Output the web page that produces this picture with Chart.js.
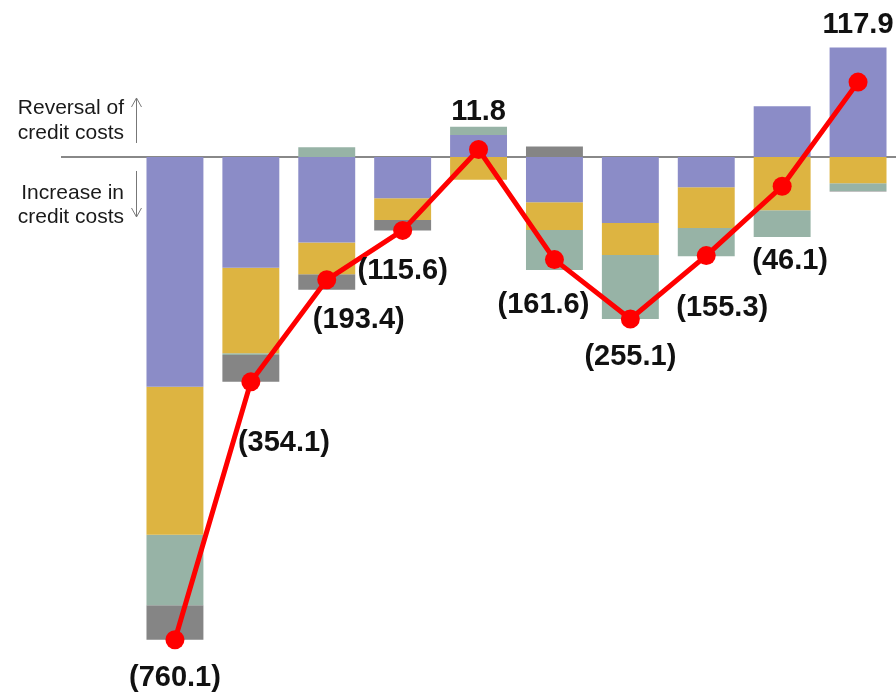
<!DOCTYPE html>
<html>
<head>
<meta charset="utf-8">
<script src="https://cdn.jsdelivr.net/npm/chart.js@4"></script>
<style>
  html, body { margin: 0; padding: 0; background: #fff; }
  #wrap { position: relative; width: 896px; height: 695px; }
</style>
</head>
<body>
<div id="wrap"><canvas id="creditCosts" width="896" height="695"></canvas></div>
<script>
// quarterly net credit costs, split by component (negative = increase in credit costs)
const periods = ['P1', 'P2', 'P3', 'P4', 'P5', 'P6', 'P7', 'P8', 'P9', 'P10'];
const purpleVals = [-362, -174.3, -134.5, -65, 34.6, -71.4, -104, -47.5, 80, 172.4];
const yellowVals = [-233, -134.8, -50, -34.2, -35.9, -43.6, -50.5, -64.4, -84, -41.4];
const tealVals = [-111, -2.7, 15.5, 0, 13.1, -63, -100.6, -44.4, -42.1, -12.1];
const grayVals = [-54.1, -42.3, -24.4, -16.4, 0, 16.4, 0, 1.0, 0, -1.0];
const netVals = [-760.1, -354.1, -193.4, -115.6, 11.8, -161.6, -255.1, -155.3, -46.1, 117.9];

// where each total label sits relative to its point
const labelOffsets = [[0, 38], [33, 61], [32, 40], [0, 41], [0, -37],
  [-11, 45], [0, 38], [16, 52], [8, 75], [0, -57]];

const FONT = 'Arial, "Liberation Sans", sans-serif';
const fmt = v => v < 0 ? '(' + Math.abs(v).toFixed(1) + ')' : v.toFixed(1);

const zeroLine = {
  id: 'zeroLine',
  beforeDatasetsDraw(chart) {
    const c = chart.ctx;
    const y = chart.scales.y.getPixelForValue(0);
    c.save();
    c.strokeStyle = '#888888';
    c.lineWidth = 2;
    c.beginPath();
    c.moveTo(61, y);
    c.lineTo(chart.width, y);
    c.stroke();

    // side notes with arrows
    c.fillStyle = '#1a1a1a';
    c.font = '21px ' + FONT;
    c.textAlign = 'right';
    c.textBaseline = 'alphabetic';
    c.fillText('Reversal of', 124, y - 43);
    c.fillText('credit costs', 124, y - 18);
    c.fillText('Increase in', 124, y + 42);
    c.fillText('credit costs', 124, y + 66);

    c.strokeStyle = '#777777';
    c.lineWidth = 1;
    const ax = 136.5;
    c.beginPath();
    c.moveTo(ax, y - 14); c.lineTo(ax, y - 59);
    c.moveTo(ax - 5, y - 50); c.lineTo(ax, y - 59); c.lineTo(ax + 5, y - 50);
    c.moveTo(ax, y + 14); c.lineTo(ax, y + 60);
    c.moveTo(ax - 5, y + 51); c.lineTo(ax, y + 60); c.lineTo(ax + 5, y + 51);
    c.stroke();
    c.restore();
  }
};

const totalLabels = {
  id: 'totalLabels',
  afterDatasetsDraw(chart) {
    const c = chart.ctx;
    const meta = chart.getDatasetMeta(0);
    c.save();
    c.fillStyle = '#111111';
    c.font = 'bold 29px ' + FONT;
    c.textAlign = 'center';
    c.textBaseline = 'middle';
    meta.data.forEach((pt, i) => {
      const [dx, dy] = labelOffsets[i];
      c.fillText(fmt(netVals[i]), pt.x + dx, pt.y + dy);
    });
    c.restore();
  }
};

const barDefaults = { type: 'bar', stack: 'parts', barPercentage: 0.75, categoryPercentage: 1, borderWidth: 0, order: 1 };

function draw() {
  new Chart(document.getElementById('creditCosts').getContext('2d'), {
    data: {
      labels: periods,
      datasets: [
        {
          type: 'line', label: 'Net', data: netVals, stack: 'net', order: 0,
          borderColor: '#ff0000', backgroundColor: '#ff0000', borderWidth: 5,
          pointRadius: 9.5, pointBorderWidth: 0, tension: 0, clip: false
        },
        Object.assign({ label: 'Purple', data: purpleVals, backgroundColor: '#8b8cc7' }, barDefaults),
        Object.assign({ label: 'Yellow', data: yellowVals, backgroundColor: '#ddb441' }, barDefaults),
        Object.assign({ label: 'Teal', data: tealVals, backgroundColor: '#97b3a6' }, barDefaults),
        Object.assign({ label: 'Gray', data: grayVals, backgroundColor: '#858585' }, barDefaults)
      ]
    },
    options: {
      responsive: false,
      animation: false,
      layout: { autoPadding: false, padding: { left: 137, right: 0, top: 0, bottom: 0 } },
      plugins: { legend: { display: false }, tooltip: { enabled: false } },
      scales: {
        x: { display: false, stacked: true },
        y: { display: false, stacked: true, min: -847.2, max: 247.2 }
      }
    },
    plugins: [zeroLine, totalLabels]
  });
}

Promise.all([
  document.fonts.load('21px ' + FONT),
  document.fonts.load('bold 29px ' + FONT)
]).then(draw, draw);
</script>
</body>
</html>
